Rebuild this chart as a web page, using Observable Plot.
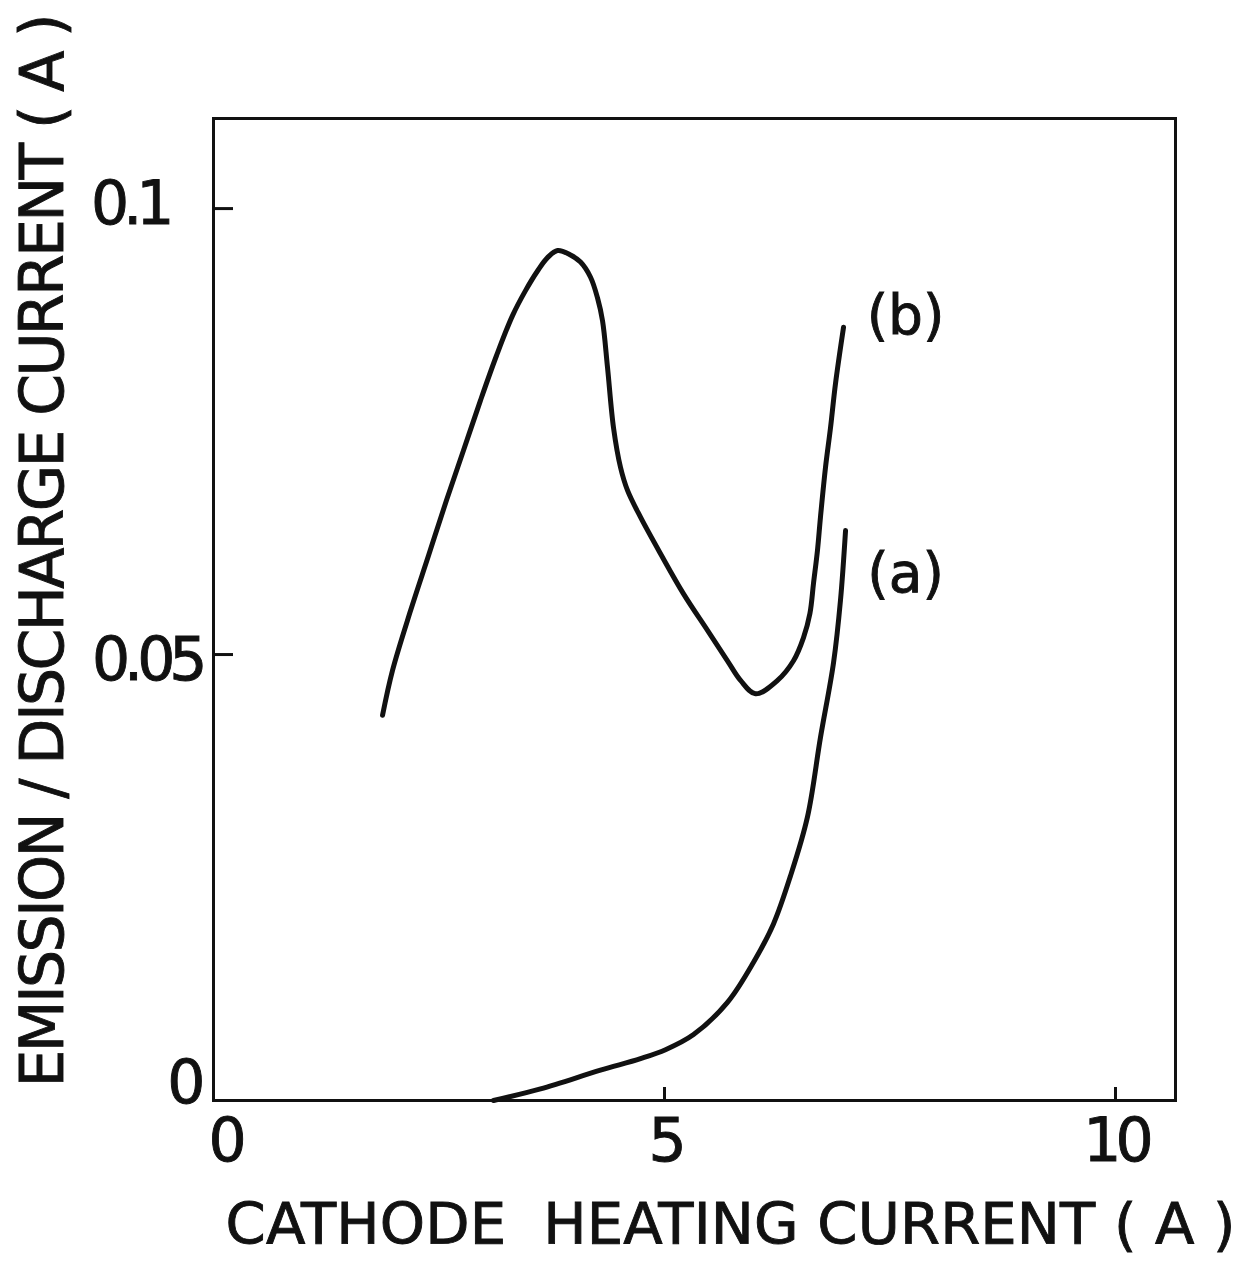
<!DOCTYPE html>
<html>
<head>
<meta charset="utf-8">
<script src="https://cdn.jsdelivr.net/npm/d3@7"></script>
<script src="https://cdn.jsdelivr.net/npm/@observablehq/plot@0.6"></script>
<style>
  html, body { margin: 0; padding: 0; background: #fff; }
  #chart svg { display: block; }
  #chart svg text { white-space: pre; stroke: #111; stroke-width: 0.9px; }
</style>
</head>
<body>
<div id="chart"></div>
<script>
// Curve (a): emission current vs cathode heating current
const heatingA  = [3.104, 3.625, 4.290, 4.734, 5.011, 5.322, 5.698, 5.987, 6.208, 6.397, 6.585, 6.729, 6.874, 6.951, 7.007];
const emissionA = [0.0000, 0.0013, 0.0034, 0.0047, 0.0057, 0.0074, 0.0110, 0.0155, 0.0198, 0.0252, 0.0318, 0.0407, 0.0491, 0.0561, 0.0639];

// Curve (b): discharge current vs cathode heating current
const heatingB  = [1.874, 1.984, 2.184, 2.384, 2.583, 2.772, 2.960, 3.137, 3.315, 3.459, 3.592, 3.703, 3.814, 3.958,
                   4.069, 4.180, 4.257, 4.313, 4.368, 4.435, 4.512, 4.590, 4.734, 4.956, 5.211, 5.477, 5.698, 5.843,
                   6.009, 6.253, 6.430, 6.541, 6.612, 6.652, 6.696, 6.729, 6.785, 6.840, 6.896, 6.985];
const emissionB = [0.0432, 0.0482, 0.0549, 0.0611, 0.0673, 0.0729, 0.0785, 0.0835, 0.0880, 0.0908, 0.0930, 0.0945, 0.0953, 0.0948,
                   0.0940, 0.0923, 0.0900, 0.0874, 0.0822, 0.0754, 0.0710, 0.0684, 0.0654, 0.0613, 0.0568, 0.0527, 0.0493, 0.0471,
                   0.0456, 0.0471, 0.0493, 0.0519, 0.0546, 0.0580, 0.0617, 0.0654, 0.0710, 0.0754, 0.0804, 0.0867];

const xTicks = [0, 5, 10];
const yTicks = [0, 0.05, 0.1];
const xTitle = "CATHODE  HEATING CURRENT ( A )";
const yTitle = "EMISSION / DISCHARGE CURRENT ( A )";

const rows = [
  ...heatingA.map((c, i) => ({series: "a", current: c, value: emissionA[i]})),
  ...heatingB.map((c, i) => ({series: "b", current: c, value: emissionB[i]}))
];

const W = 1254, H = 1275;
const mL = 213, mR = 79, mT = 118, mB = 175;
const plotW = W - mL - mR, plotH = H - mT - mB;
const ink = "#111";
const font = "'DejaVu Sans', sans-serif";
const fmt = d => `${d}`;

const chart = Plot.plot({
  width: W,
  height: H,
  marginLeft: mL,
  marginRight: mR,
  marginTop: mT,
  marginBottom: mB,
  style: {fontFamily: font, background: "#fff", color: ink},
  x: {domain: [0, 10.665], label: null},
  y: {domain: [0, 0.1101], label: null},
  marks: [
    Plot.frame({stroke: ink, strokeWidth: 3}),
    // inward tick marks
    Plot.ruleY(yTicks.filter(v => v > 0), {stroke: ink, strokeWidth: 3, insetRight: plotW - 20}),
    Plot.ruleX(xTicks.filter(v => v > 0), {stroke: ink, strokeWidth: 3, insetTop: plotH - 13}),
    // tick labels
    Plot.axisY([yTicks[2]], {tickSize: 0, tickPadding: 45, dy: -4, fontSize: 60, label: null, tickFormat: fmt, fill: ink}),
    Plot.axisY([yTicks[1]], {tickSize: 0, tickPadding: 12, dy: 6, fontSize: 60, label: null, tickFormat: fmt, fill: ink}),
    Plot.axisY([yTicks[0]], {tickSize: 0, tickPadding: 14, dy: -17, fontSize: 60, label: null, tickFormat: fmt, fill: ink}),
    Plot.axisX([xTicks[0]], {tickSize: 0, tickPadding: 18, dx: 11, fontSize: 60, label: null, tickFormat: fmt, fill: ink}),
    Plot.axisX(xTicks.slice(1), {tickSize: 0, tickPadding: 18, fontSize: 60, label: null, tickFormat: fmt, fill: ink}),
    // curves
    Plot.line(rows, {x: "current", y: "value", z: "series", stroke: ink, strokeWidth: 5,
      curve: "catmull-rom", strokeLinecap: "round", strokeLinejoin: "round"}),
    // curve labels
    Plot.text(rows.filter(d => d.series === "b"), Plot.selectLast({x: "current", y: "value",
      text: d => `(${d.series})`, dx: 62, dy: -11, fontSize: 55, fill: ink})),
    Plot.text(rows.filter(d => d.series === "a"), Plot.selectLast({x: "current", y: "value",
      text: d => `(${d.series})`, dx: 60, dy: 44, fontSize: 55, fill: ink})),
    // axis titles
    Plot.text([xTitle], {frameAnchor: "bottom", textAnchor: "middle", text: d => d, dx: 36, dy: 143, fontSize: 57.6, fill: ink}),
    Plot.text([yTitle], {frameAnchor: "left", textAnchor: "middle", text: d => d, rotate: -90, dx: -170, dy: -59, fontSize: 60, fill: ink})
  ]
});

// stretch the axis titles to their lettered lengths
const svg = d3.select(chart);
svg.selectAll("text").filter(function () { return this.textContent === xTitle; })
  .attr("textLength", 1010).attr("lengthAdjust", "spacing");
svg.selectAll("text").filter(function () { return this.textContent === yTitle; })
  .attr("textLength", 1074).attr("lengthAdjust", "spacing");
// tighter digit spacing on the tick labels
svg.selectAll("g[aria-label$='tick label'] text").style("letter-spacing", "-6px");

document.getElementById("chart").appendChild(chart);
</script>
</body>
</html>
